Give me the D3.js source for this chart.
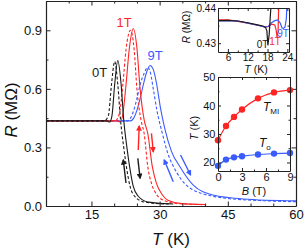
<!DOCTYPE html>
<html>
<head>
<meta charset="utf-8">
<script src="https://cdn.jsdelivr.net/npm/d3@7"></script>
<style>
  body { margin: 0; background: #fff; }
  svg { display: block; font-family: "Liberation Sans", Arial, sans-serif; }
  .domain { stroke: #222; }
  .tick line { stroke: #222; }
</style>
</head>
<body>
<svg id="chart" width="306" height="249"></svg>
<script>
// main panel: R(T) at 0, 1 and 9 T, warming (solid) and cooling (dashed)
const r0Solid = [[5, 0.436], [18.4, 0.436], [19.0, 0.43], [19.5, 0.46], [20.1, 0.62], [20.8, 0.745], [21.5, 0.63], [22.1, 0.44], [22.8, 0.3], [23.4, 0.2], [24.2, 0.1], [25.3, 0.05], [27.5, 0.02], [33, 0.01]]
const r0Dash = [[5, 0.436], [17.8, 0.436], [18.7, 0.46], [19.4, 0.62], [20.1, 0.74], [20.8, 0.62], [21.4, 0.44], [22.1, 0.3], [22.7, 0.2], [23.5, 0.1], [24.5, 0.05], [26.7, 0.02], [32, 0.01]]
const r1Solid = [[5, 0.436], [20.8, 0.436], [21.3, 0.43], [21.9, 0.47], [22.6, 0.62], [23.3, 0.8], [24.2, 0.908], [25.0, 0.81], [25.7, 0.6], [26.6, 0.44], [27.4, 0.37], [28.4, 0.2], [29.3, 0.116], [30.5, 0.06], [31.8, 0.03], [35, 0.012], [40, 0.008]]
const r1Dash = [[5, 0.436], [20.2, 0.436], [21.1, 0.47], [21.9, 0.62], [22.6, 0.8], [23.6, 0.9], [24.4, 0.8], [25.0, 0.6], [25.9, 0.44], [26.6, 0.37], [27.4, 0.2], [28.2, 0.116], [29.3, 0.06], [30.8, 0.03], [34, 0.012], [40, 0.007]]
const r9Solid = [[5, 0.436], [23.6, 0.436], [24.3, 0.45], [25.0, 0.49], [25.7, 0.55], [26.4, 0.62], [27.2, 0.69], [27.9, 0.72], [28.6, 0.7], [29.3, 0.63], [30.2, 0.5], [31.2, 0.39], [32.6, 0.28], [34.5, 0.2], [37.4, 0.107], [41.8, 0.056], [48.4, 0.036], [60, 0.026]]
const r9Dash = [[5, 0.436], [22.9, 0.436], [23.6, 0.45], [24.3, 0.49], [25.0, 0.55], [25.7, 0.62], [26.6, 0.68], [27.4, 0.71], [28.0, 0.68], [28.6, 0.6], [29.4, 0.49], [30.5, 0.38], [31.8, 0.27], [33.8, 0.17], [37.4, 0.082], [44.8, 0.039], [52, 0.028], [60, 0.022]]

const mainTicksX = [15, 30, 45, 60]
const mainMinorX = [5, 10, 20, 25, 35, 40, 50, 55]
const mainTicksY = [0, 0.3, 0.6, 0.9]
const mainMinorY = [0.15, 0.45, 0.75, 1.05]

// arrows: [T0, R0, T1, R1], pointing from first to second point
const blackArrows = [[22.6, 0.118, 22.0, 0.236], [25.2, 0.244, 25.7, 0.142]]
const redArrows = [[25.3, 0.287, 25.5, 0.41], [28.2, 0.372, 28.6, 0.278]]
const blueArrows = [[33.0, 0.124, 31.0, 0.236], [34.6, 0.261, 36.8, 0.159]]

// upper inset: low temperature detail
const i0 = [[3, 0.4364], [6, 0.4365], [9, 0.4363], [12, 0.4358], [15, 0.4352], [16.6, 0.4349], [17.4, 0.4345], [17.8, 0.4335], [18.1, 0.4294], [18.5, 0.4325], [18.8, 0.437], [19.1, 0.4415]]
const i1 = [[3, 0.4366], [6, 0.4366], [9, 0.4362], [12, 0.4357], [15, 0.4351], [17.1, 0.4346], [18.2, 0.4347], [19.2, 0.4354], [20.2, 0.4352], [20.6, 0.4338], [20.9, 0.4316], [21.2, 0.4335], [21.4, 0.4415]]
const i9 = [[3, 0.4363], [6, 0.4364], [9, 0.4363], [12, 0.4357], [15, 0.4351], [17.1, 0.4346], [18.2, 0.4348], [19.2, 0.4358], [20.2, 0.4364], [21.1, 0.4366], [21.8, 0.4358], [22.4, 0.4343], [22.8, 0.4342], [23.3, 0.4346], [23.7, 0.437], [23.9, 0.4415]]

// lower inset: transition temperatures vs field
const fieldB = [0, 1, 2, 3, 5, 7, 9]
const tMI = [27.8, 32.8, 36.0, 38.6, 42.5, 44.6, 45.4]
const tO = [18.8, 21.0, 21.8, 22.2, 22.8, 23.1, 23.3]

const BLACK = "#1a1a1a"
const RED = "#ff2424"
const BLUE = "#3a5cff"

const svg = d3.select("#chart")

const defs = svg.append("defs")
;[["black", BLACK], ["red", RED], ["blue", BLUE]].forEach(([name, col]) => {
  defs.append("marker")
    .attr("id", `head-${name}`)
    .attr("viewBox", "0 0 10 10")
    .attr("refX", 8).attr("refY", 5)
    .attr("markerWidth", 4.2).attr("markerHeight", 4.2)
    .attr("markerUnits", "strokeWidth")
    .attr("orient", "auto")
    .append("path")
    .attr("d", "M0,0 L10,5 L0,10 z")
    .attr("fill", col)
})

function clip(id, x0, y0, x1, y1) {
  defs.append("clipPath").attr("id", id)
    .append("rect").attr("x", x0).attr("y", y0)
    .attr("width", x1 - x0).attr("height", y1 - y0)
}

// framed axes with inward ticks on all four sides
function frame(g, x, y, opt) {
  const [x0, x1] = x.range()
  const [y1, y0] = y.range()
  const major = opt.major, minor = opt.minor
  const parts = [
    [d3.axisBottom, y1, opt.xTicks, opt.xMinor, opt.xFmt],
    [d3.axisTop, y0, opt.xTicks, opt.xMinor, null],
  ]
  parts.forEach(([fn, pos, ticks, minors, fmt]) => {
    g.append("g").attr("transform", `translate(0,${pos})`)
      .call(fn(x).tickValues(minors).tickSize(-minor).tickFormat(""))
      .call((s) => s.select(".domain").remove())
    const a = g.append("g").attr("transform", `translate(0,${pos})`)
      .call(fn(x).tickValues(ticks).tickSize(-major).tickSizeOuter(0)
        .tickPadding(opt.pad).tickFormat(fmt || (() => "")))
    a.selectAll("text").attr("font-size", opt.font).attr("fill", "#111")
  })
  const sides = [
    [d3.axisLeft, x0, opt.yFmt],
    [d3.axisRight, x1, null],
  ]
  sides.forEach(([fn, pos, fmt]) => {
    g.append("g").attr("transform", `translate(${pos},0)`)
      .call(fn(y).tickValues(opt.yMinor).tickSize(-minor).tickFormat(""))
      .call((s) => s.select(".domain").remove())
    const a = g.append("g").attr("transform", `translate(${pos},0)`)
      .call(fn(y).tickValues(opt.yTicks).tickSize(-major).tickSizeOuter(0)
        .tickPadding(opt.pad).tickFormat(fmt || (() => "")))
    a.selectAll("text").attr("font-size", opt.font).attr("fill", "#111")
  })
  g.selectAll(".domain").attr("stroke-width", opt.stroke)
}

// ---- main panel ----
const x = d3.scaleLinear().domain([5, 60]).range([46, 296])
const y = d3.scaleLinear().domain([0, 1.05]).range([206, 1])
clip("clip-main", 46, 1, 296, 206)

const line = d3.line()
  .x((d) => x(d[0]))
  .y((d) => y(d[1]))
  .curve(d3.curveMonotoneX)

const plot = svg.append("g").attr("clip-path", "url(#clip-main)")
const curves = [
  [r9Dash, BLUE, true], [r9Solid, BLUE, false],
  [r1Dash, RED, true], [r1Solid, RED, false],
  [r0Dash, BLACK, true], [r0Solid, BLACK, false],
]
curves.forEach(([data, col, dashed]) => {
  plot.append("path")
    .datum(data)
    .attr("fill", "none")
    .attr("stroke", col)
    .attr("stroke-width", 1.1)
    .attr("stroke-dasharray", dashed ? "3,2" : null)
    .attr("d", line)
})

;[[blackArrows, BLACK, "black"], [redArrows, RED, "red"], [blueArrows, BLUE, "blue"]]
  .forEach(([arrows, col, name]) => {
    plot.selectAll(null).data(arrows).enter().append("line")
      .attr("x1", (d) => x(d[0])).attr("y1", (d) => y(d[1]))
      .attr("x2", (d) => x(d[2])).attr("y2", (d) => y(d[3]))
      .attr("stroke", col)
      .attr("stroke-width", 1.4)
      .attr("marker-end", `url(#head-${name})`)
  })

frame(svg.append("g"), x, y, {
  xTicks: mainTicksX, xMinor: mainMinorX, yTicks: mainTicksY, yMinor: mainMinorY,
  xFmt: d3.format("d"), yFmt: d3.format(".1f"),
  major: 4.5, minor: 2.5, pad: 4, font: 13, stroke: 1.2,
})

const mainLabels = [["0T", 16.8, 0.66, BLACK], ["1T", 22.2, 0.917, RED], ["9T", 29.0, 0.75, BLUE]]
svg.selectAll(null).data(mainLabels).enter().append("text")
  .attr("x", (d) => x(d[1])).attr("y", (d) => y(d[2]))
  .attr("text-anchor", "middle")
  .attr("font-size", 13)
  .attr("fill", (d) => d[3])
  .text((d) => d[0])

const xl = svg.append("text").attr("x", 171).attr("y", 245)
  .attr("text-anchor", "middle").attr("font-size", 17).attr("fill", "#111")
xl.append("tspan").attr("font-style", "italic").text("T")
xl.append("tspan").text(" (K)")

const yl = svg.append("text").attr("transform", "translate(17,110) rotate(-90)")
  .attr("text-anchor", "middle").attr("font-size", 17).attr("fill", "#111")
yl.append("tspan").attr("font-style", "italic").text("R")
yl.append("tspan").text(" (MΩ)")

// ---- upper inset ----
const ix = d3.scaleLinear().domain([3, 24.5]).range([218, 289])
const iy = d3.scaleLinear().domain([0.4275, 0.44]).range([52, 8])
svg.append("rect").attr("x", 218).attr("y", 8).attr("width", 71).attr("height", 44).attr("fill", "#fff")
clip("clip-in1", 218, 8, 289, 52)

const iline = d3.line().x((d) => ix(d[0])).y((d) => iy(d[1]))
const in1 = svg.append("g").attr("clip-path", "url(#clip-in1)")
;[[i1, RED], [i9, BLUE], [i0, BLACK]].forEach(([data, col]) => {
  in1.append("path").datum(data)
    .attr("fill", "none").attr("stroke", col).attr("stroke-width", 1.2)
    .attr("d", iline)
})

frame(svg.append("g"), ix, iy, {
  xTicks: [6, 12, 18, 24], xMinor: [9, 15, 21], yTicks: [0.43, 0.44], yMinor: [0.435],
  xFmt: d3.format("d"), yFmt: d3.format(".2f"),
  major: 3, minor: 1.5, pad: 2, font: 10, stroke: 1,
})

const in1Labels = [["0T", 16.5, 0.4285, BLACK], ["1T", 20.3, 0.4295, RED], ["9T", 22.7, 0.4317, BLUE]]
svg.selectAll(null).data(in1Labels).enter().append("text")
  .attr("x", (d) => ix(d[1])).attr("y", (d) => iy(d[2]))
  .attr("text-anchor", "middle").attr("font-size", 10)
  .attr("fill", (d) => d[3]).text((d) => d[0])

const ixl = svg.append("text").attr("x", 256).attr("y", 73)
  .attr("text-anchor", "middle").attr("font-size", 10.5).attr("fill", "#111")
ixl.append("tspan").attr("font-style", "italic").text("T")
ixl.append("tspan").text(" (K)")

const iyl = svg.append("text").attr("transform", "translate(190,27) rotate(-90)")
  .attr("text-anchor", "middle").attr("font-size", 10).attr("fill", "#111")
iyl.append("tspan").attr("font-style", "italic").text("R")
iyl.append("tspan").text(" (MΩ)")

// ---- lower inset ----
const bx = d3.scaleLinear().domain([0, 9]).range([218, 290])
const by = d3.scaleLinear().domain([17, 50]).range([171, 77])
svg.append("rect").attr("x", 218).attr("y", 77).attr("width", 72).attr("height", 94).attr("fill", "#fff")

const bline = d3.line()
  .x((d) => bx(d[0])).y((d) => by(d[1]))
  .curve(d3.curveMonotoneX)
;[[tMI, RED], [tO, BLUE]].forEach(([vals, col]) => {
  const pts = fieldB.map((b, i) => [b, vals[i]])
  svg.append("path").datum(pts)
    .attr("fill", "none").attr("stroke", col).attr("stroke-width", 1.2)
    .attr("d", bline)
  svg.selectAll(null).data(pts).enter().append("circle")
    .attr("cx", (d) => bx(d[0])).attr("cy", (d) => by(d[1]))
    .attr("r", 3.2).attr("fill", col)
})

frame(svg.append("g"), bx, by, {
  xTicks: [0, 3, 6, 9], xMinor: [1.5, 4.5, 7.5], yTicks: [20, 30, 40, 50], yMinor: [25, 35, 45],
  xFmt: d3.format("d"), yFmt: d3.format("d"),
  major: 3, minor: 1.5, pad: 2.5, font: 11, stroke: 1,
})

const tmi = svg.append("text").attr("x", 263).attr("y", 111).attr("font-size", 12).attr("fill", "#111")
tmi.append("tspan").attr("font-style", "italic").text("T")
tmi.append("tspan").attr("font-size", 8).attr("dy", 3).text("MI")
const to = svg.append("text").attr("x", 259).attr("y", 147).attr("font-size", 12).attr("fill", "#111")
to.append("tspan").attr("font-style", "italic").text("T")
to.append("tspan").attr("font-size", 8).attr("dy", 3).text("o")

const bxl = svg.append("text").attr("x", 254).attr("y", 195)
  .attr("text-anchor", "middle").attr("font-size", 11).attr("fill", "#111")
bxl.append("tspan").attr("font-style", "italic").text("B")
bxl.append("tspan").text(" (T)")

const byl = svg.append("text").attr("transform", "translate(198,128) rotate(-90)")
  .attr("text-anchor", "middle").attr("font-size", 11).attr("fill", "#111")
byl.append("tspan").attr("font-style", "italic").text("T")
byl.append("tspan").text(" (K)")
</script>
</body>
</html>
